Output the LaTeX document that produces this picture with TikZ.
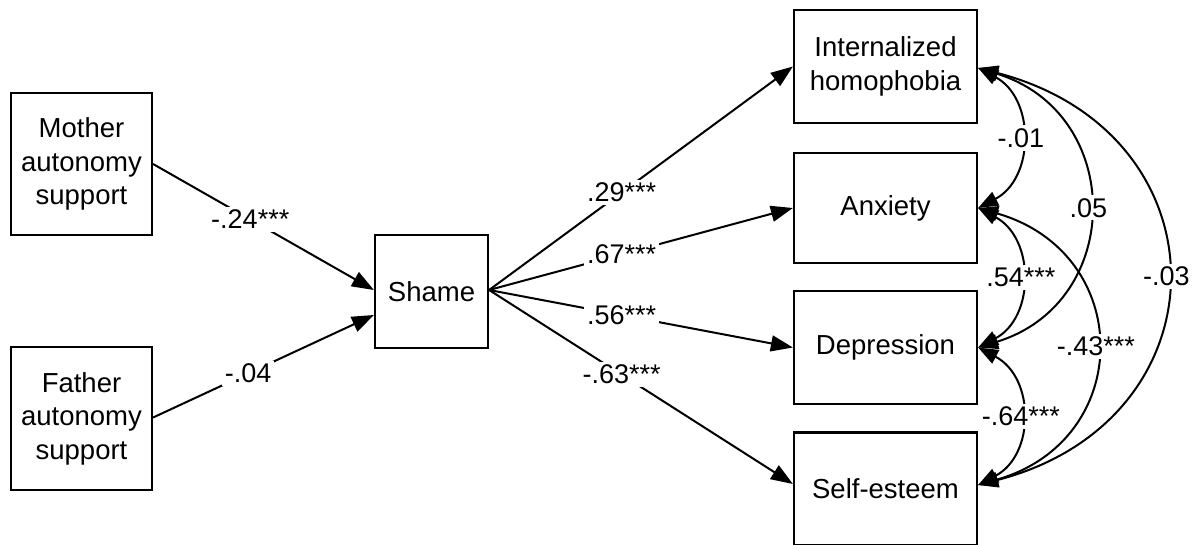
\documentclass[tikz,border=0pt]{standalone}
\usepackage{fontspec}
\setmainfont{Liberation Sans}
\usetikzlibrary{arrows.meta,calc}
\begin{document}
\begin{tikzpicture}[x=1pt,y=-1pt,
  box/.style={draw,line width=2.2pt,align=center,inner sep=0pt,
    font=\fontsize{27.5}{33.5}\selectfont},
  path/.style={line width=2pt,-{Triangle[length=22pt,width=16pt]}},
  cov/.style={line width=2pt,{Triangle[length=20pt,width=15pt]}-{Triangle[length=20pt,width=15pt]}},
  lab/.style={fill=white,inner sep=3pt,font=\fontsize{27}{30}\selectfont}]
\useasboundingbox (0,0) rectangle (1203,544);
\node[box,minimum width=141pt,minimum height=142pt] (mother) at (81.5,164) {Mother\\autonomy\\support};
\node[box,minimum width=141pt,minimum height=143pt] (father) at (81.5,418.5) {Father\\autonomy\\support};
\node[box,minimum width=113pt,minimum height=113pt] (shame) at (431.5,291.5) {Shame};
\node[box,minimum width=183pt,minimum height=113pt] (ih) at (885.5,66.5) {Internalized\\homophobia};
\node[box,minimum width=183pt,minimum height=110pt] (anx) at (885.5,208) {Anxiety};
\node[box,minimum width=183pt,minimum height=113pt] (dep) at (885.5,347.5) {Depression};
\node[box,minimum width=183pt,minimum height=113pt] (se) at (885.5,489) {Self-esteem};

\draw[path] (mother.east) -- node[lab,pos=0.44] {-.24***} ([yshift=1.5pt]shame.west);
\draw[path] ([yshift=1pt]father.east) -- node[lab,pos=0.43] {-.04} ([yshift=-23.5pt]shame.west);

\coordinate (s) at ([yshift=1.5pt]shame.east);
\draw[path] (s) -- node[lab,pos=0.436] {.29***} (ih.west);
\draw[path] (s) -- node[lab,pos=0.436] {.67***} (anx.west);
\draw[path] (s) -- node[lab,pos=0.436] {.56***} (dep.west);
\draw[path] (s) -- node[lab,pos=0.436] {-.63***} ([yshift=5pt]se.west);

\coordinate (e1) at ([yshift=-1.5pt]ih.east);
\coordinate (e2) at (anx.east);
\coordinate (e3) at (dep.east);
\coordinate (e4) at ([yshift=4pt]se.east);
\draw[cov] (e1) .. controls +(57,30) and +(57,-30) .. node[lab,pos=0.5] {-.01} (e2);
\draw[cov] (e2) .. controls +(57,30) and +(57,-30) .. node[lab,pos=0.5] {.54***} (e3);
\draw[cov] (e3) .. controls +(57,30) and +(57,-30) .. node[lab,pos=0.5] {-.64***} (e4);
\draw[cov] (e1) .. controls +(147,45) and +(147,-45) .. node[lab,pos=0.5] {.05} (e3);
\draw[cov] (e2) .. controls +(157,45) and +(157,-45) .. node[lab,pos=0.5] {-.43***} (e4);
\draw[cov] (e1) .. controls +(251,65) and +(251,-65) .. node[lab,pos=0.5] {-.03} (e4);
\end{tikzpicture}
\end{document}
